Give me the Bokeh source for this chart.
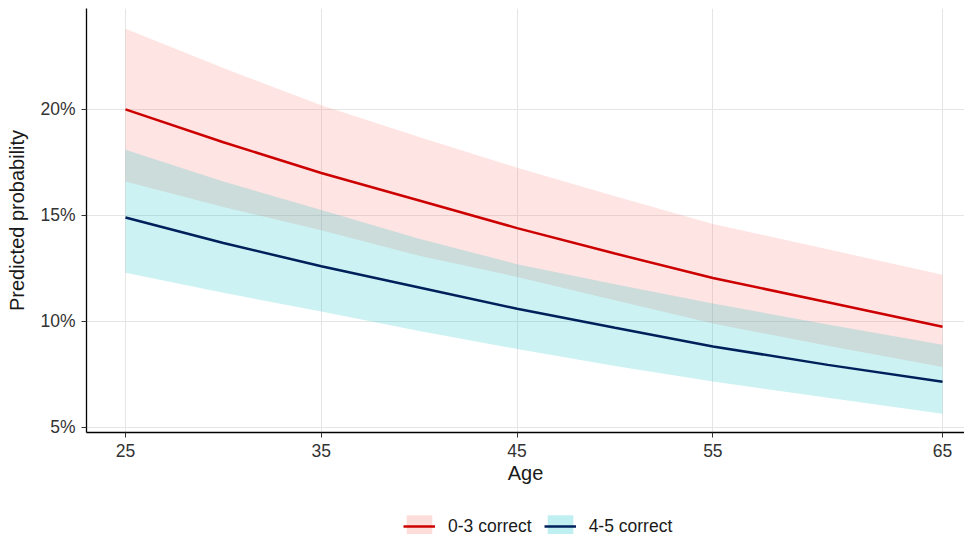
import numpy as np
from bokeh.plotting import figure
from bokeh.layouts import column
from bokeh.models import (ColumnDataSource, Range1d, FixedTicker, PrintfTickFormatter,
                          Legend, LegendItem)
from bokeh.embed import file_html
from bokeh.resources import INLINE

# ---- data ----
AGE = [25, 30, 35, 40, 45, 50, 55, 60, 65]
LOW_FIT = [20.0, 18.45, 17.0, 15.7, 14.4, 13.2, 12.05, 10.9, 9.75]      # 0-3 correct
LOW_UPPER = [23.8, 21.95, 20.2, 18.7, 17.25, 15.9, 14.6, 13.4, 12.2]
LOW_LOWER = [16.6, 15.4, 14.3, 13.1, 12.1, 11.0, 9.9, 8.85, 7.85]
HIGH_FIT = [14.9, 13.7, 12.6, 11.6, 10.6, 9.7, 8.82, 7.95, 7.15]       # 4-5 correct
HIGH_UPPER = [18.1, 16.6, 15.25, 13.9, 12.7, 11.75, 10.85, 9.85, 8.9]
HIGH_LOWER = [12.3, 11.35, 10.47, 9.55, 8.7, 7.9, 7.17, 6.4, 5.65]
SERIES = ["0-3 correct", "4-5 correct"]
X_TICK_LABELS = [25, 35, 45, 55, 65]
Y_TICKS = [5, 10, 15, 20]

# axis scale of the reference (last interval is drawn wider)
X_TICK_POS = [25, 35, 45, 55, 66.73]
x_pos = np.interp(AGE, X_TICK_LABELS, X_TICK_POS)

LOW_FILL, HIGH_FILL = "#F8766D", "#00BFC4"
LOW_LINE, HIGH_LINE = "#CC0000", "#00205B"

src = ColumnDataSource(dict(x=x_pos, lf=LOW_FIT, lu=LOW_UPPER, ll=LOW_LOWER,
                            hf=HIGH_FIT, hu=HIGH_UPPER, hl=HIGH_LOWER))

FONT = "Liberation Sans"
p = figure(width=964, height=492, output_backend="svg", toolbar_location=None,
           x_range=Range1d(23.01, 67.85), y_range=Range1d(4.76, 24.76),
           min_border_left=86, min_border_right=0, min_border_top=8,
           min_border_bottom=60)
p.outline_line_color = None
p.background_fill_color = "white"

p.varea(x="x", y1="ll", y2="lu", source=src, fill_color=LOW_FILL, fill_alpha=0.2)
p.varea(x="x", y1="hl", y2="hu", source=src, fill_color=HIGH_FILL, fill_alpha=0.2)
p.line(x="x", y="lf", source=src, line_color=LOW_LINE, line_width=2.5)
p.line(x="x", y="hf", source=src, line_color=HIGH_LINE, line_width=2.5)

# axes
p.xaxis.ticker = FixedTicker(ticks=X_TICK_POS)
p.xaxis.major_label_overrides = {pos: str(lab) for pos, lab in zip(X_TICK_POS, X_TICK_LABELS)}
p.yaxis.ticker = FixedTicker(ticks=Y_TICKS)
p.yaxis.formatter = PrintfTickFormatter(format="%d%%")
p.xaxis.axis_label = "Age"
p.yaxis.axis_label = "Predicted probability"
for ax in (p.xaxis, p.yaxis):
    ax.axis_line_color = "black"
    ax.axis_line_width = 1.3
    ax.major_tick_line_color = "#333333"
    ax.major_tick_out = 5
    ax.major_tick_in = 0
    ax.minor_tick_line_color = None
    ax.major_label_text_font = FONT
    ax.major_label_text_font_size = "17.5px"
    ax.major_label_text_color = "#333333"
    ax.axis_label_text_font = FONT
    ax.axis_label_text_font_size = "20px"
    ax.axis_label_text_font_style = "normal"
    ax.axis_label_text_color = "#1a1a1a"
p.xaxis.major_label_standoff = 6
p.yaxis.major_label_standoff = 6
p.xaxis.axis_label_standoff = 2
p.yaxis.axis_label_standoff = 9

p.xgrid.ticker = FixedTicker(ticks=X_TICK_POS)
p.ygrid.ticker = FixedTicker(ticks=Y_TICKS)
p.grid.grid_line_color = "#E5E5E5"
p.grid.grid_line_width = 1

# ---- legend strip below the chart (its frame is aligned with the chart's) ----
lf = figure(width=964, height=42, output_backend="svg", toolbar_location=None,
            x_range=Range1d(0, 1), y_range=Range1d(0, 1),
            min_border_left=0, min_border_right=0, min_border_top=0, min_border_bottom=0)
lf.axis.visible = False
lf.grid.visible = False
lf.outline_line_color = None
# key glyphs: sources whose points lie outside the strip's range, so only the legend shows them
key_src = ColumnDataSource(dict(x=[5, 6], y1=[5, 5], y2=[6, 6], y=[5, 5]))
k1a = lf.varea(x="x", y1="y1", y2="y2", source=key_src, fill_color=LOW_FILL, fill_alpha=0.25)
k1b = lf.line(x="x", y="y", source=key_src, line_color=LOW_LINE, line_width=2.5)
k2a = lf.varea(x="x", y1="y1", y2="y2", source=key_src, fill_color=HIGH_FILL, fill_alpha=0.25)
k2b = lf.line(x="x", y="y", source=key_src, line_color=HIGH_LINE, line_width=2.5)

legend = Legend(items=[LegendItem(label=SERIES[0], renderers=[k1a, k1b]),
                       LegendItem(label=SERIES[1], renderers=[k2a, k2b])],
                orientation="horizontal", location=(317, -6))
legend.glyph_width = 32
legend.glyph_height = 28
legend.label_standoff = 13
legend.spacing = 12
legend.padding = 0
legend.margin = 0
legend.border_line_color = None
legend.background_fill_alpha = 0
legend.label_text_font = FONT
legend.label_text_font_size = "17.5px"
legend.label_text_color = "#1a1a1a"
lf.add_layout(legend, "center")

layout = column(p, lf)
open("out.html", "w").write(file_html(layout, INLINE))
